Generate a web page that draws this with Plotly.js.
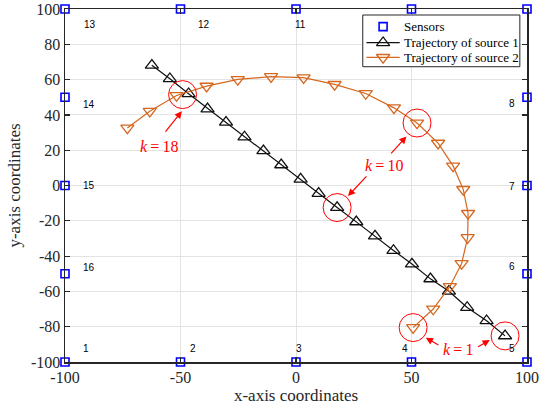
<!DOCTYPE html>
<html>
<head>
<meta charset="utf-8">
<script src="https://cdn.plot.ly/plotly-3.0.1.min.js"></script>
<style>html,body{margin:0;padding:0;background:#fff;}#chart{width:552px;height:408px;}</style>
</head>
<body>
<div id="chart"></div>
<script>
// ---- data ----
const sensorIds = [1, 2, 3, 4, 5, 6, 7, 8, 9, 10, 11, 12, 13, 14, 15, 16];
const sensorX = [-100, -50, 0, 50, 100, 100, 100, 100, 100, 50, 0, -50, -100, -100, -100, -100];
const sensorY = [-100, -100, -100, -100, -100, -50, 0, 50, 100, 100, 100, 100, 100, 50, 0, -50];

// trajectory of source 1, k = 1 .. 20
const src1X = [90.5, 82.5, 74.1, 66.2, 58.2, 50.2, 42.2, 34.2, 26.1, 17.8, 9.8, 2.0, -6.4, -14.1, -22.3, -30.3, -38.3, -46.5, -54.6, -62.4];
const src1Y = [-85.2, -76.6, -69.1, -59.9, -52.9, -44.5, -36.8, -28.6, -20.6, -12.5, -4.5, 3.6, 11.7, 19.7, 27.5, 35.8, 43.4, 52.0, 60.5, 68.1];
// trajectory of source 2, k = 1 .. 20
const src2X = [50.7, 59.4, 66.6, 71.7, 74.3, 74.5, 72.4, 68.0, 61.5, 52.4, 42.4, 30.2, 16.7, 3.3, -10.8, -25.2, -38.7, -51.7, -63.3, -73.0];
const src2Y = [-80.5, -70.0, -57.2, -44.2, -29.5, -15.8, -2.2, 11.1, 24.0, 35.4, 44.0, 52.1, 57.3, 61.1, 61.7, 60.1, 56.3, 51.0, 42.1, 32.6];

const seriesNames = ['Sensors', 'Trajectory of source 1', 'Trajectory of source 2'];
const markedSteps = [1, 10, 18];
const xTickVals = [-100, -50, 0, 50, 100];
const yTickVals = [-100, -80, -60, -40, -20, 0, 20, 40, 60, 80, 100];

// sensor number labels that are visible (9 and 10 sit under the legend)
const labelIds = [1, 2, 3, 4, 5, 6, 7, 8, 11, 12, 13, 14, 15, 16];
const labelPosX = [-91.0, -44.8, 1.2, 47.4, 93.6, 93.6, 93.6, 93.6, 1.8, -40.0, -89.2, -89.6, -89.6, -89.6];
const labelPosY = [-92.2, -92.2, -92.2, -92.2, -92.4, -45.9, -0.3, 46.3, 91.5, 91.5, 91.5, 45.9, -0.1, -46.3];

// ---- styles ----
const SERIF = 'Liberation Serif, Times New Roman, serif';
const AX = '#262626';
const BLACK = '#111111';
const ORANGE = '#d5671f';
const RED = '#ff0000';
const sensorMarker = {symbol: 'square-open', size: 8, color: '#0000ff', line: {width: 1.6, color: '#0000ff'}};
const m1 = {symbol: 'triangle-up-open', size: 11.5, color: BLACK, line: {width: 1.3, color: BLACK}};
const m2 = {symbol: 'triangle-down-open', size: 11.5, color: ORANGE, line: {width: 1.3, color: ORANGE}};

// circled time steps (k = 1, 10 on both tracks; k = 18 one circle between the two)
function pt(xs, ys, k) { return [xs[k - 1], ys[k - 1]]; }
const circX = [], circY = [];
markedSteps.forEach(k => {
  const a = pt(src1X, src1Y, k), b = pt(src2X, src2Y, k);
  if (k === 18) { circX.push((a[0] + b[0]) / 2); circY.push((a[1] + b[1]) / 2); }
  else { circX.push(a[0], b[0]); circY.push(a[1], b[1]); }
});

// legend box placement (axis units)
const LG = {x0: 28.9, x1: 96.9, y0: 67.3, y1: 96.6, lineX0: 30.5, lineX1: 44.9, textX: 45.7, rows: [90.0, 80.9, 72.6]};
const LGmid = (LG.lineX0 + LG.lineX1) / 2;

const base = {type: 'scatter', cliponaxis: false, hoverinfo: 'skip', showlegend: false};
const traces = [
  Object.assign({}, base, {x: src1X, y: src1Y, mode: 'lines+markers', name: seriesNames[1],
    line: {color: BLACK, width: 1.2}, marker: m1}),
  Object.assign({}, base, {x: src2X, y: src2Y, mode: 'lines+markers', name: seriesNames[2],
    line: {color: ORANGE, width: 1.2}, marker: m2}),
  Object.assign({}, base, {x: circX, y: circY, mode: 'markers',
    marker: {symbol: 'circle-open', size: 28, color: RED, line: {width: 1, color: RED}}}),
  Object.assign({}, base, {x: sensorX, y: sensorY, mode: 'markers', name: seriesNames[0], marker: sensorMarker}),
  // legend glyphs
  Object.assign({}, base, {x: [LGmid], y: [LG.rows[0]], mode: 'markers', marker: sensorMarker}),
  Object.assign({}, base, {x: [LG.lineX0, LG.lineX1], y: [LG.rows[1], LG.rows[1]], mode: 'lines',
    line: {color: BLACK, width: 1.2}}),
  Object.assign({}, base, {x: [LG.lineX0, LG.lineX1], y: [LG.rows[2], LG.rows[2]], mode: 'lines',
    line: {color: ORANGE, width: 1.2}}),
  Object.assign({}, base, {x: [LGmid], y: [LG.rows[1]], mode: 'markers', marker: m1}),
  Object.assign({}, base, {x: [LGmid], y: [LG.rows[2]], mode: 'markers', marker: m2})
];

const annotations = [];
for (let i = 0; i < labelIds.length; i++) {
  annotations.push({
    x: labelPosX[i], y: labelPosY[i], xref: 'x', yref: 'y', text: String(labelIds[i]),
    showarrow: false, font: {family: 'Liberation Sans, Arial, sans-serif', size: 10, color: '#000'},
    xanchor: 'center', yanchor: 'middle'
  });
}
// arrows: head (x,y) and tail (ax,ay) in axis units
const arrows = [
  [56.2, -86.2, 62.3, -90.9],
  [83.9, -87.6, 78.2, -91.9],
  [47.8, 27.8, 40.6, 17.4],
  [22.5, -6.0, 31.1, 6.0],
  [-49.4, 42.1, -57.0, 29.7]
];
arrows.forEach(a => annotations.push({
  x: a[0], y: a[1], ax: a[2], ay: a[3], xref: 'x', yref: 'y', axref: 'x', ayref: 'y',
  text: '', showarrow: true, arrowhead: 2, arrowsize: 1.2, arrowwidth: 1.2, arrowcolor: RED, standoff: 0, startstandoff: 0
}));
const kTexts = [['<i>k</i>\u2009=\u20091', 70.2, -92.8], ['<i>k</i>\u2009=\u200910', 38.4, 11.1], ['<i>k</i>\u2009=\u200918', -59.2, 22.1]];
kTexts.forEach(t => annotations.push({
  x: t[1], y: t[2], xref: 'x', yref: 'y', text: t[0], showarrow: false,
  font: {family: SERIF, size: 16, color: RED}, xanchor: 'center', yanchor: 'middle'
}));
// legend texts
seriesNames.forEach((n, i) => annotations.push({
  x: LG.textX, y: LG.rows[i], xref: 'x', yref: 'y', text: n, showarrow: false,
  font: {family: SERIF, size: 13, color: '#000'}, xanchor: 'left', yanchor: 'middle'
}));

const axisCommon = {
  showline: true, linecolor: AX, linewidth: 1.5, mirror: 'ticks',
  ticks: 'inside', ticklen: 5, tickwidth: 1.2, tickcolor: AX,
  showgrid: true, gridcolor: '#e3e3e3', gridwidth: 1, zeroline: false,
  tickfont: {family: SERIF, size: 16, color: AX}, automargin: false
};

const layout = {
  width: 552, height: 408,
  margin: {l: 65, r: 25, t: 9, b: 46, pad: 0},
  paper_bgcolor: '#fff', plot_bgcolor: '#fff',
  showlegend: false,
  xaxis: Object.assign({}, axisCommon, {
    range: [-100, 100], tickvals: xTickVals, ticktext: xTickVals.map(String),
    title: {text: 'x-axis coordinates', font: {family: SERIF, size: 17, color: AX}, standoff: 0}
  }),
  yaxis: Object.assign({}, axisCommon, {
    range: [-100, 100], tickvals: yTickVals, ticktext: yTickVals.map(String),
    title: {text: 'y-axis coordinates', font: {family: SERIF, size: 17, color: AX}, standoff: 6}
  }),
  shapes: [{
    type: 'rect', xref: 'x', yref: 'y', x0: LG.x0, x1: LG.x1, y0: LG.y0, y1: LG.y1,
    fillcolor: '#fff', line: {color: AX, width: 1}, layer: 'between'
  }],
  annotations: annotations
};

Plotly.newPlot('chart', traces, layout, {staticPlot: true, displayModeBar: false});
</script>
</body>
</html>
